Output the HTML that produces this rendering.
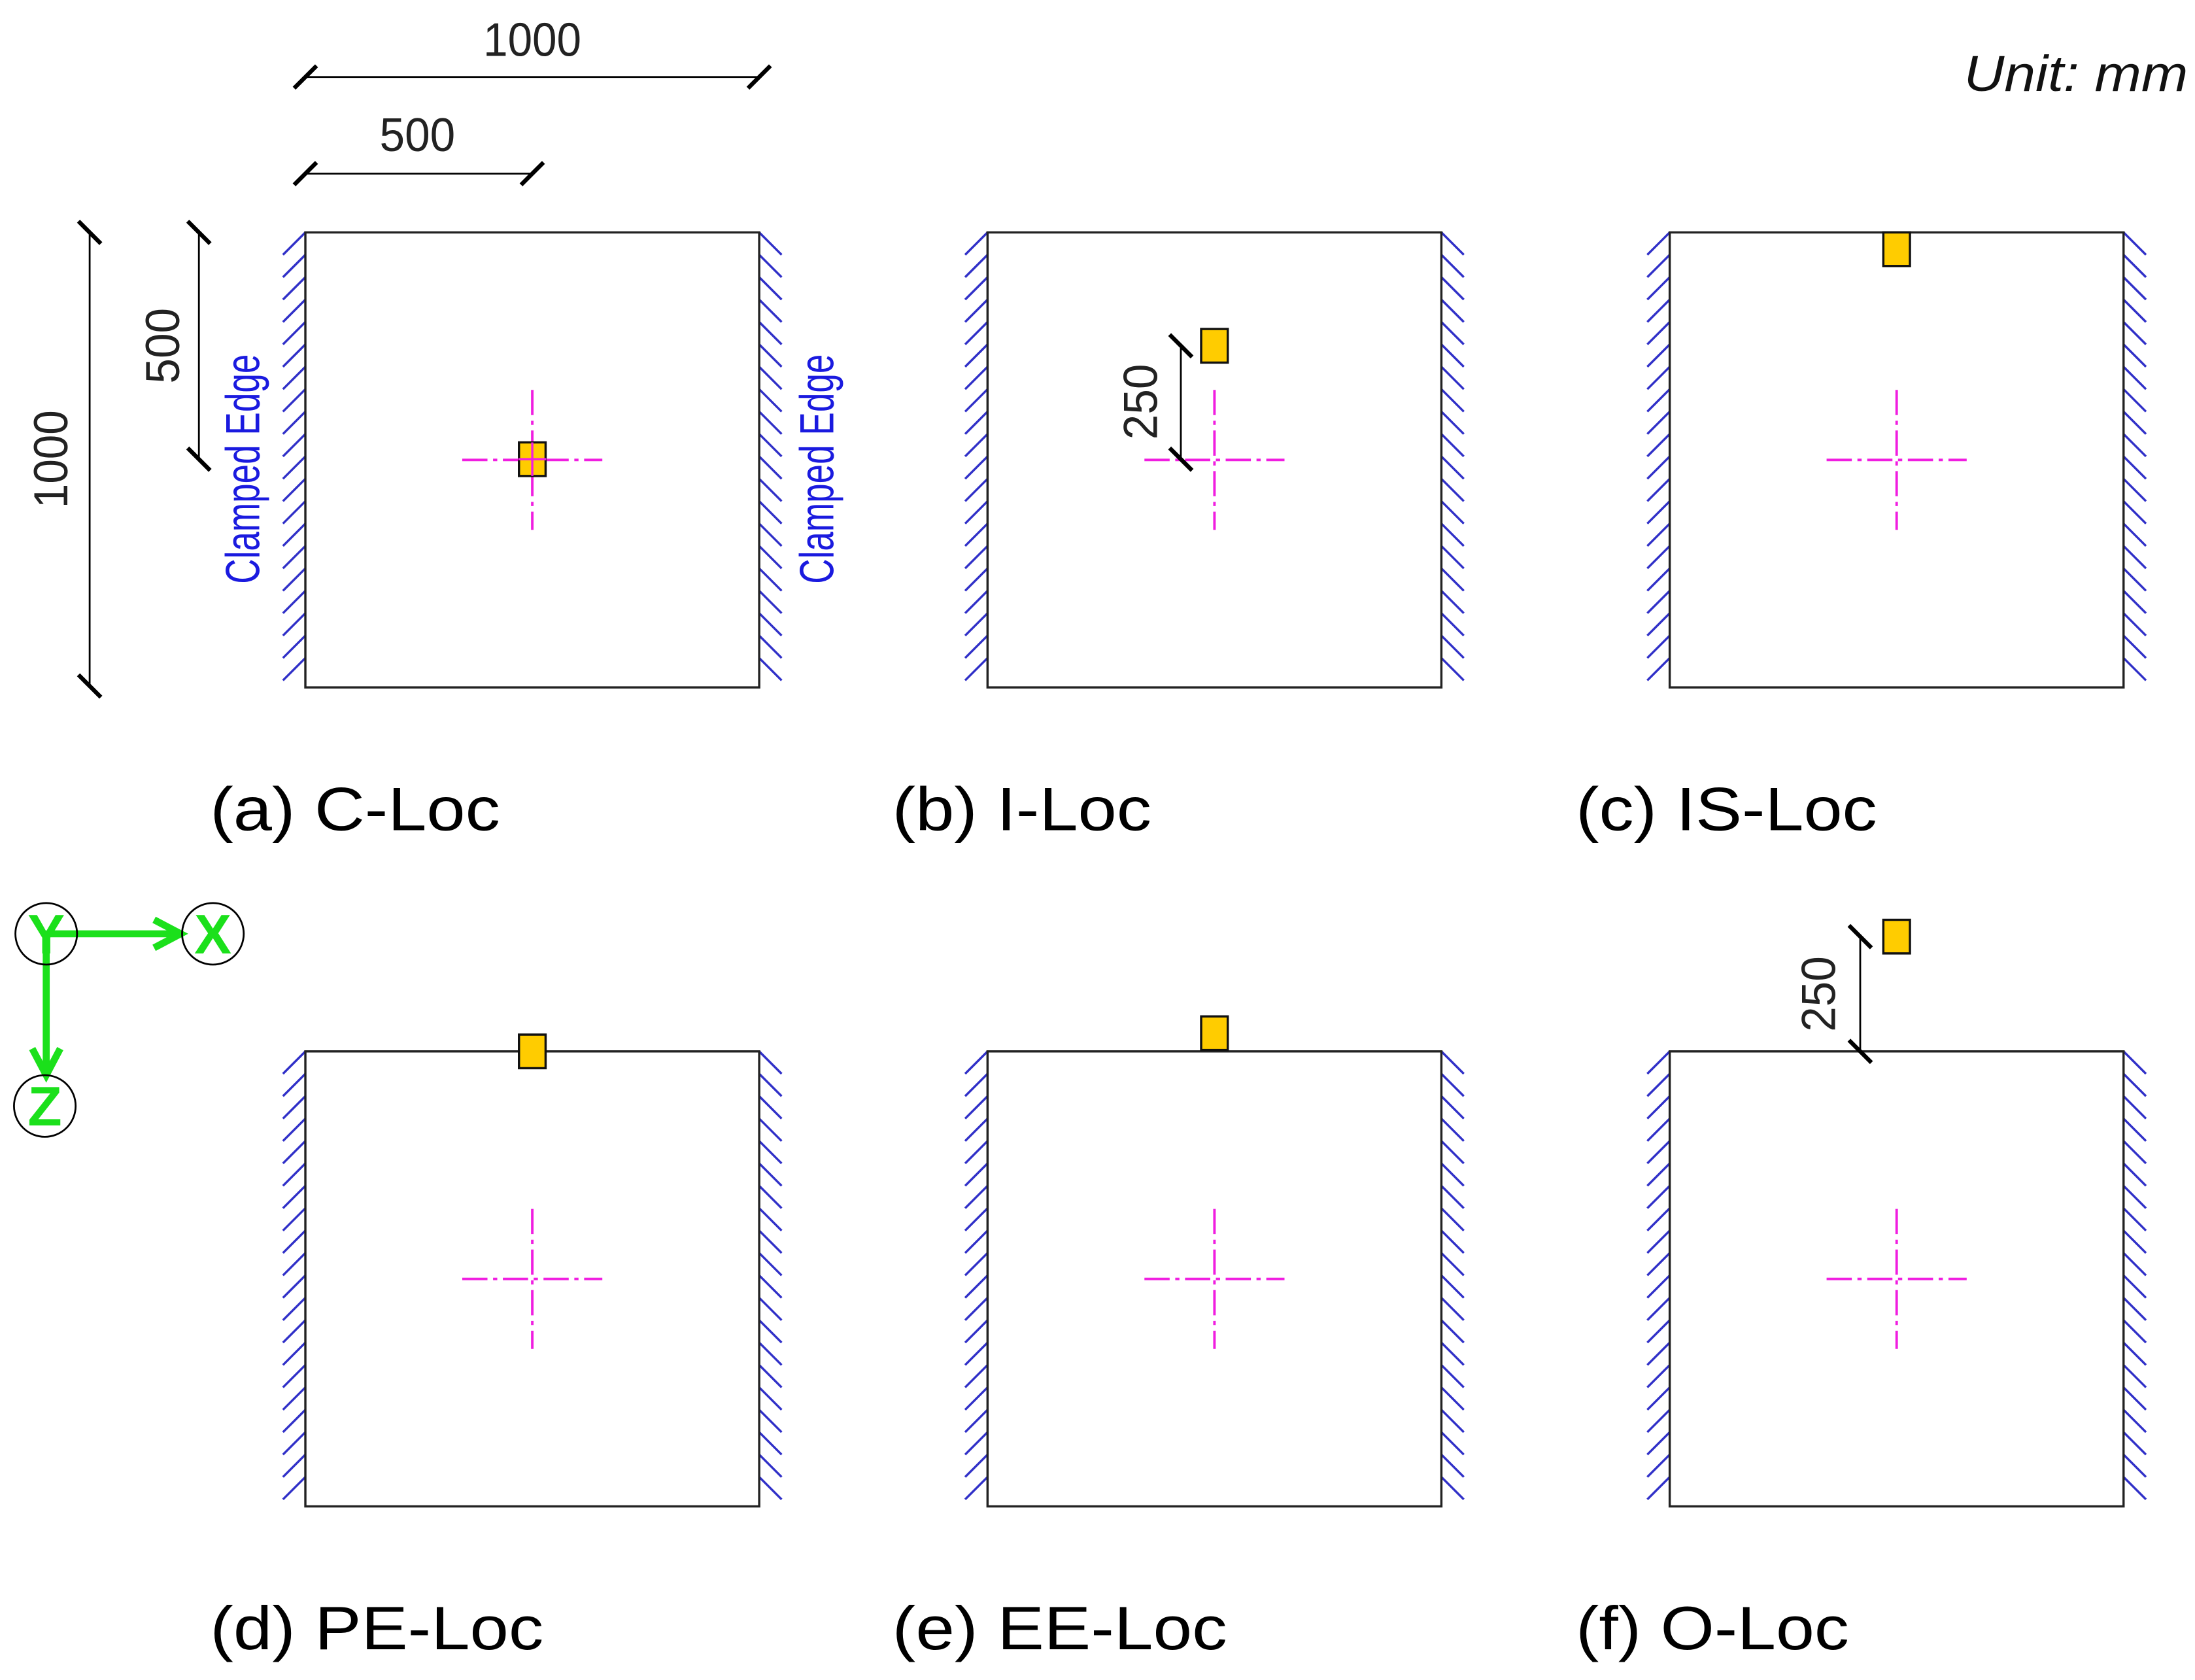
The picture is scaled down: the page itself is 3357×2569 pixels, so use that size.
<!DOCTYPE html>
<html><head><meta charset="utf-8"><style>html,body{margin:0;padding:0;background:#fff}svg{display:block}</style></head>
<body>
<svg width="3357" height="2569" viewBox="0 0 1567 1200" preserveAspectRatio="none" xmlns="http://www.w3.org/2000/svg" font-family="Liberation Sans, sans-serif">
<g id="panels"></g>
<g stroke="#000" stroke-width="1.3" fill="none">
  <line x1="218" y1="55" x2="542" y2="55"/><line x1="210" y1="63" x2="226" y2="47" stroke-width="3"/><line x1="534" y1="63" x2="550" y2="47" stroke-width="3"/>
  <line x1="218" y1="124" x2="380" y2="124"/><line x1="210" y1="132" x2="226" y2="116" stroke-width="3"/><line x1="372" y1="132" x2="388" y2="116" stroke-width="3"/>
  <line x1="64" y1="166" x2="64" y2="490"/><line x1="56" y1="158" x2="72" y2="174" stroke-width="3"/><line x1="56" y1="482" x2="72" y2="498" stroke-width="3"/>
  <line x1="142" y1="166" x2="142" y2="328"/><line x1="134" y1="158" x2="150" y2="174" stroke-width="3"/><line x1="134" y1="320" x2="150" y2="336" stroke-width="3"/>
  <line x1="843" y1="247" x2="843" y2="328"/><line x1="835" y1="239" x2="851" y2="255" stroke-width="3"/><line x1="835" y1="320" x2="851" y2="336" stroke-width="3"/>
  <line x1="1328" y1="669" x2="1328" y2="751"/><line x1="1320" y1="661" x2="1336" y2="677" stroke-width="3"/><line x1="1320" y1="743" x2="1336" y2="759" stroke-width="3"/>
</g>
<g font-size="34" fill="#222" text-anchor="middle">
  <text x="380" y="40" textLength="70" lengthAdjust="spacingAndGlyphs">1000</text>
  <text x="298" y="108" textLength="54" lengthAdjust="spacingAndGlyphs">500</text>
  <text transform="translate(48,328) rotate(-90)" textLength="70" lengthAdjust="spacingAndGlyphs">1000</text>
  <text transform="translate(128,247) rotate(-90)" textLength="54" lengthAdjust="spacingAndGlyphs">500</text>
  <text transform="translate(826,287) rotate(-90)" textLength="54" lengthAdjust="spacingAndGlyphs">250</text>
  <text transform="translate(1310,710) rotate(-90)" textLength="54" lengthAdjust="spacingAndGlyphs">250</text>
</g>
<g font-size="34" fill="#1a1adf" text-anchor="middle">
  <text transform="translate(185,335) rotate(-90)" textLength="164" lengthAdjust="spacingAndGlyphs">Clamped Edge</text>
  <text transform="translate(595,335) rotate(-90)" textLength="164" lengthAdjust="spacingAndGlyphs">Clamped Edge</text>
</g>
<text x="1562" y="65" text-anchor="end" font-size="36" font-style="italic" fill="#111" textLength="160" lengthAdjust="spacingAndGlyphs">Unit: mm</text>
<g font-size="44" fill="#000" lengthAdjust="spacingAndGlyphs">
  <text x="150" y="593" textLength="207" lengthAdjust="spacingAndGlyphs">(a) C-Loc</text>
  <text x="637" y="593" textLength="185" lengthAdjust="spacingAndGlyphs">(b) I-Loc</text>
  <text x="1125" y="593" textLength="215" lengthAdjust="spacingAndGlyphs">(c) IS-Loc</text>
  <text x="150" y="1178" textLength="238" lengthAdjust="spacingAndGlyphs">(d) PE-Loc</text>
  <text x="637" y="1178" textLength="239" lengthAdjust="spacingAndGlyphs">(e) EE-Loc</text>
  <text x="1125" y="1178" textLength="195" lengthAdjust="spacingAndGlyphs">(f) O-Loc</text>
</g>
<g>
  <line x1="33" y1="667" x2="125" y2="667" stroke="#1be01b" stroke-width="5"/>
  <polyline points="110,657 129,667 110,677" fill="none" stroke="#1be01b" stroke-width="5"/>
  <line x1="33" y1="667" x2="33" y2="764" stroke="#1be01b" stroke-width="5"/>
  <polyline points="23,749 33,768 43,749" fill="none" stroke="#1be01b" stroke-width="5"/>
  <circle cx="33" cy="667" r="22" fill="none" stroke="#000" stroke-width="1.3"/>
  <circle cx="152" cy="667" r="22" fill="none" stroke="#000" stroke-width="1.3"/>
  <circle cx="32" cy="790" r="22" fill="none" stroke="#000" stroke-width="1.3"/>
  <g font-size="40" fill="#1be01b" text-anchor="middle" font-weight="bold"><text x="33" y="681">Y</text><text x="152" y="681">X</text><text x="32" y="804">Z</text></g>
</g>
</svg>
<script>
const panelLefts = [218, 705, 1192, 218, 705, 1192];
const panelTops = [166, 166, 166, 751, 751, 751];
const sensorX = [380, 867, 1354, 380, 867, 1354];
const sensorY = [328, 247, 178, 751, 738, 669];
const NS = 'http://www.w3.org/2000/svg';
const g = document.getElementById('panels');
function mk(tag, attrs, parent) {
  const e = document.createElementNS(NS, tag);
  for (const k in attrs) e.setAttribute(k, attrs[k]);
  parent.appendChild(e); return e;
}
for (let i = 0; i < 6; i++) {
  const L = panelLefts[i], T = panelTops[i], W = 324, H = 325;
  const pg = mk('g', {}, g);
  
  
  let d = '';
  for (let y = T + 16; y <= T + H + 1; y += 16) {
    d += `M${L} ${y - 16}L${L - 16} ${y}`;
    d += `M${L + W} ${y - 16}L${L + W + 16} ${y}`;
  }
  const h = mk('path', {d: d, stroke: '#3030c8', 'stroke-width': 1.6, fill: 'none'}, pg);
  
  
  const r = mk('rect', {x: L, y: T, width: W, height: H, fill: 'none', stroke: '#222', 'stroke-width': 1.6}, pg);
  
  
  const cx = L + W / 2, cy = T + H / 2;
  const c = mk('path', {d: `M${cx - 50} ${cy}H${cx + 50}M${cx} ${cy - 50}V${cy + 50}`, stroke: '#f01ee0', 'stroke-width': 1.8, 'stroke-dasharray': '18 4 3 4', fill: 'none'}, pg);
  
  
  const s = mk('rect', {x: sensorX[i] - 9.5, y: sensorY[i] - 12, width: 19, height: 24, fill: '#ffcc00', stroke: '#111', 'stroke-width': 1.6}, pg);
  
  
}
const cm = mk('path', {d: 'M370 328H390M380 316V340', stroke: '#f01ee0', 'stroke-width': 1.6, fill: 'none'}, g);


</script>
</body></html>
